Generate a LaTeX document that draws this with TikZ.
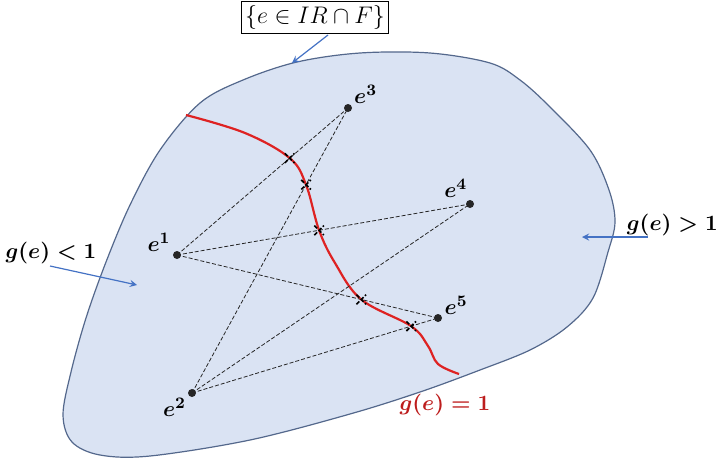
\documentclass[tikz,border=0pt]{standalone}
\usepackage{amsmath,amssymb}
\usepackage{tikz}
\usetikzlibrary{shapes.misc, arrows}

\definecolor{regionfill}{RGB}{218,227,243}
\definecolor{regionline}{RGB}{84,104,140}
\definecolor{pointerblue}{RGB}{68,114,196}
\definecolor{levelred}{RGB}{222,34,34}

\begin{document}
\begin{tikzpicture}[
    x=0.5pt, y=-0.5pt,
    pt/.style={circle, fill=black!85, inner sep=0pt, minimum size=4pt},
    ptlabel/.style={font=\fontsize{11}{13}\selectfont\boldmath, inner sep=1pt},
    cut/.style={cross out, draw=black, thick, minimum size=4pt, inner sep=0pt},
    chord/.style={dash pattern=on 2pt off 1pt, thin, black!85},
    pointer/.style={-stealth, draw=pointerblue, semithick},
    regionlabel/.style={font=\fontsize{11}{13}\selectfont\boldmath}
  ]
    \useasboundingbox (0,0) rectangle (721,461);

    % feasible region
    \draw[regionline, line width=0.6pt, fill=regionfill]
      plot[smooth cycle, tension=0.55] coordinates {
        (243,80) (297,62) (360,53) (430,53) (490,63) (520,80) (550,107)
        (590,150) (609,190) (615,222) (608,252) (593,298) (567,327) (530,350)
        (480,370) (420,392) (350,414) (250,440) (150,456) (100,455) (72,442)
        (63,415) (71,372) (86,318) (106,262) (130,205) (160,150) (200,103)};

    % level set g(e)=1
    \draw[levelred, line width=1.1pt]
      plot[smooth, tension=0.6] coordinates {
        (186,115) (245,133) (289.7,158.1) (306,184.7) (319.1,230.3) (335,263)
        (361.3,299.5) (411.2,326.2) (428,346) (438,364) (459,374)};

    % points
    \node[pt, label={[ptlabel]160:$e^1$}] (e1) at (177,255) {};
    \node[pt, label={[ptlabel]215:$e^2$}] (e2) at (192,393) {};
    \node[pt, label={[ptlabel]30:$e^3$}] (e3) at (348,108) {};
    \node[pt, label={[ptlabel]95:$e^4$}] (e4) at (470,204) {};
    \node[pt, label={[ptlabel]15:$e^5$}] (e5) at (438,318) {};

    % segments and crossings
    \draw[chord] (e1.center) -- node[cut, pos=0.659] (c13) {} (e3.center);
    \draw[chord] (e1.center) -- node[cut, pos=0.485] (c14) {} (e4.center);
    \draw[chord] (e1.center) -- node[cut, pos=0.706] (c15) {} (e5.center);
    \draw[chord] (e2.center) -- node[cut, pos=0.731] (c23) {} (e3.center);
    \draw[chord] (e2.center) -- (e4.center);
    \draw[chord] (e2.center) -- node[cut, pos=0.891] (c25) {} (e5.center);

    % labels and pointers
    \node[draw, thin, inner sep=2pt, font=\fontsize{12}{14}\selectfont] (set) at (315,17) {$\{e\in IR\cap F\}$};
    \coordinate (setTail) at (328,35);
    \coordinate (setHead) at (292,63);
    \draw[pointer] (setTail) -- (setHead);

    \node[regionlabel] (less) at (51,253) {$g(e)<1$};
    \coordinate (lessTail) at (50,266);
    \coordinate (lessHead) at (137,285);
    \draw[pointer] (lessTail) -- (lessHead);

    \node[regionlabel, anchor=east, inner sep=1pt] (greater) at (720,225) {$g(e)>1$};
    \coordinate (greaterTail) at (648,237);
    \coordinate (greaterHead) at (582,237);
    \draw[pointer] (greaterTail) -- (greaterHead);

    \node[regionlabel, text=levelred!85!black] (level) at (445,405) {$g(e)=1$};
  \end{tikzpicture}
\end{document}
